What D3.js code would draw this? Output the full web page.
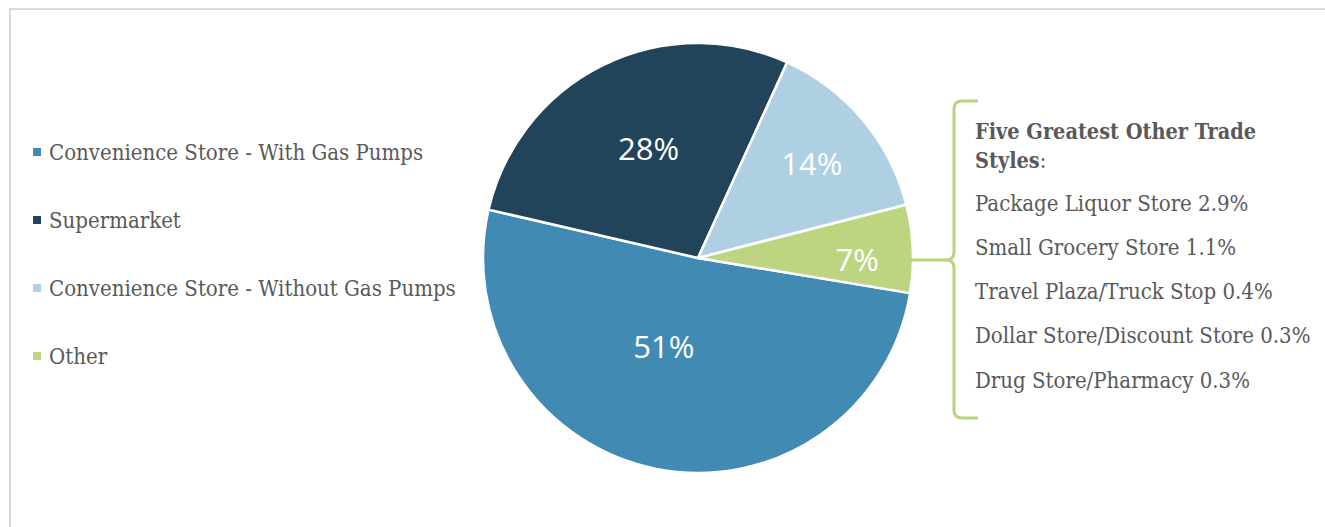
<!DOCTYPE html>
<html>
<head>
<meta charset="utf-8">
<script src="https://cdn.jsdelivr.net/npm/d3@7"></script>
<style>
  body { margin: 0; background: #fff; }
  svg { display: block; }
</style>
</head>
<body>
<svg id="chart" width="1325" height="527"></svg>
<script>
// ---- data ----
const categories = [
  "Convenience Store - With Gas Pumps",
  "Supermarket",
  "Convenience Store - Without Gas Pumps",
  "Other"
];
const shares = [51.0, 28.2, 14.2, 6.6];
const colors = ["#418ab3", "#21445b", "#afd0e3", "#bdd581"];
const otherTitle = "Five Greatest Other Trade Styles";
const otherItems = [
  "Package Liquor Store",
  "Small Grocery Store",
  "Travel Plaza/Truck Stop",
  "Dollar Store/Discount Store",
  "Drug Store/Pharmacy"
];
const otherShares = [2.9, 1.1, 0.4, 0.3, 0.3];

// ---- layout ----
const svg = d3.select("#chart");
const W = 1325, H = 527;
const cx = 698, cy = 258, R = 215;
const textGray = "#595959";
const serif = "'DejaVu Serif Condensed', 'DejaVu Serif', serif";

// frame
svg.append("path")
  .attr("d", `M10,${H + 5} L10,9 L${W + 5},9`)
  .attr("fill", "none")
  .attr("stroke", "#d9d9d9")
  .attr("stroke-width", 2);

// pie
const start = 99.4 * Math.PI / 180;
const pie = d3.pie().sort(null).value(d => d).startAngle(start).endAngle(start + 2 * Math.PI);
const arcs = pie(shares);
const arc = d3.arc().innerRadius(0).outerRadius(R);
const g = svg.append("g").attr("transform", `translate(${cx},${cy})`);
g.selectAll("path.slice").data(arcs).enter().append("path")
  .attr("class", "slice")
  .attr("d", arc)
  .attr("fill", (d, i) => colors[i])
  .attr("stroke", "#fff")
  .attr("stroke-width", 2.5)
  .attr("stroke-linejoin", "round");

// slice labels
const labelR = [0.44, 0.56, 0.69, 0.74];
const labelDA = [10, 2, 0, 3];
g.selectAll("text.pct").data(arcs).enter().append("text")
  .attr("class", "pct")
  .each(function (d, i) {
    const a = (d.startAngle + d.endAngle) / 2 + labelDA[i] * Math.PI / 180;
    const r = R * labelR[i];
    d3.select(this)
      .attr("x", r * Math.sin(a))
      .attr("y", -r * Math.cos(a));
  })
  .attr("text-anchor", "middle")
  .attr("dominant-baseline", "central")
  .attr("fill", "#fff")
  .style("font-family", "'Open Sans', sans-serif")
  .style("font-size", "31px")
  .text(d => Math.round(d.data) + "%");

// legend
const legendY = d3.scalePoint().domain(categories).range([152, 356]);
const leg = svg.append("g");
categories.forEach((c, i) => {
  const y = legendY(c);
  leg.append("rect")
    .attr("x", 33).attr("y", y - 4).attr("width", 8).attr("height", 8)
    .attr("fill", colors[i]);
  leg.append("text")
    .attr("x", 49).attr("y", y)
    .attr("dominant-baseline", "central")
    .attr("fill", textGray)
    .style("font-family", serif)
    .style("font-size", "22px")
    .text(c);
});

// brace + connector
const green = "#b9d47f";
svg.append("line")
  .attr("x1", cx + R - 2).attr("y1", 260).attr("x2", 951).attr("y2", 260)
  .attr("stroke", green).attr("stroke-width", 3);
svg.append("path")
  .attr("d", "M978,101 L962,101 Q954,101 954,109 L954,252 Q954,260 946,260 Q954,260 954,268 L954,410 Q954,418 962,418 L978,418")
  .attr("fill", "none").attr("stroke", green).attr("stroke-width", 3);

// brace text
const bt = svg.append("g");
const t1 = bt.append("text").attr("x", 975).attr("y", 131)
  .attr("dominant-baseline", "central").attr("fill", textGray)
  .style("font-family", serif).style("font-size", "21.5px");
t1.append("tspan").attr("font-weight", "bold").text(otherTitle.split(" ").slice(0, 4).join(" "));
const t2 = bt.append("text").attr("x", 975).attr("y", 160)
  .attr("dominant-baseline", "central").attr("fill", textGray)
  .style("font-family", serif).style("font-size", "21.5px");
t2.append("tspan").attr("font-weight", "bold").text(otherTitle.split(" ").slice(4).join(" "));
t2.append("tspan").text(":");

const itemY = d3.scalePoint().domain(otherItems).range([203, 380]);
otherItems.forEach((name, i) => {
  bt.append("text")
    .attr("x", 975).attr("y", itemY(name))
    .attr("dominant-baseline", "central")
    .attr("fill", textGray)
    .style("font-family", serif)
    .style("font-size", "22px")
    .text(name + " " + otherShares[i].toFixed(1) + "%");
});
</script>
</body>
</html>
